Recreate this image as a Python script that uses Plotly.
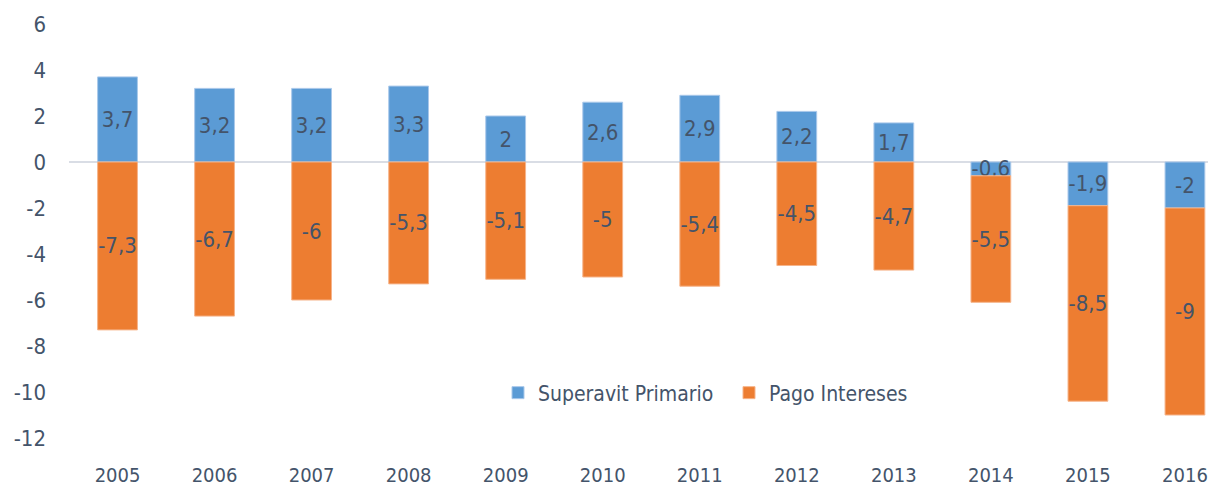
import plotly.graph_objects as go

years = ["2005", "2006", "2007", "2008", "2009", "2010", "2011", "2012", "2013", "2014", "2015", "2016"]
superavit = [3.7, 3.2, 3.2, 3.3, 2, 2.6, 2.9, 2.2, 1.7, -0.6, -1.9, -2]
intereses = [-7.3, -6.7, -6, -5.3, -5.1, -5, -5.4, -4.5, -4.7, -5.5, -8.5, -9]
y_ticks = [6, 4, 2, 0, -2, -4, -6, -8, -10, -12]


def fmt(v):
    return ("%g" % v).replace(".", ",")


FONT = "DejaVu Sans Condensed, Liberation Sans Narrow, sans-serif"
TXT = "#44546a"

fig = go.Figure()
fig.add_trace(go.Bar(
    x=years, y=superavit, name="Superavit Primario",
    marker=dict(color="#5b9bd5", line=dict(color="#a9c8ea", width=1)),
    text=[fmt(v) for v in superavit], textposition="inside", insidetextanchor="middle",
    constraintext="none", textangle=0,
    textfont=dict(family=FONT, size=22, color=TXT),
))
fig.add_trace(go.Bar(
    x=years, y=intereses, name="Pago Intereses",
    marker=dict(color="#ed7d31", line=dict(color="#f6b48a", width=1)),
    text=[fmt(v) for v in intereses], textposition="inside", insidetextanchor="middle",
    constraintext="none", textangle=0,
    textfont=dict(family=FONT, size=22, color=TXT),
))

# page is offset by 8px body margin
W, H = 1208, 485
left, right, top, bottom = 61, 0, 16, 55
pw = W - left - right
ph = H - top - bottom

fig.update_layout(
    width=W, height=H,
    barmode="relative", bargap=0.59,
    paper_bgcolor="white", plot_bgcolor="white",
    margin=dict(l=left, r=right, t=top, b=bottom, pad=0, autoexpand=False),
    font=dict(family=FONT, color=TXT, size=21),
    showlegend=True,
    legend=dict(
        orientation="h", x=(498 - 69) / pw, y=(438 - 393) / ph,
        xanchor="left", yanchor="middle",
        font=dict(family=FONT, size=21, color=TXT),
        bgcolor="rgba(0,0,0,0)", traceorder="normal",
        entrywidth=186, entrywidthmode="pixels",
    ),
    xaxis=dict(
        type="category", range=[-0.5, 11.32],
        showgrid=False, showline=False, ticks="", automargin=False,
        tickfont=dict(family=FONT, size=20, color=TXT),
        ticklabelstandoff=23,
    ),
    yaxis=dict(
        range=[-12, 6], tickvals=y_ticks, ticktext=[fmt(v) for v in y_ticks],
        showgrid=False, showline=False, ticks="", automargin=False,
        zeroline=True, zerolinecolor="#d9dde5", zerolinewidth=2,
        tickfont=dict(family=FONT, size=22, color=TXT),
        ticklabelstandoff=22,
    ),
)

fig.write_html("out.html")
